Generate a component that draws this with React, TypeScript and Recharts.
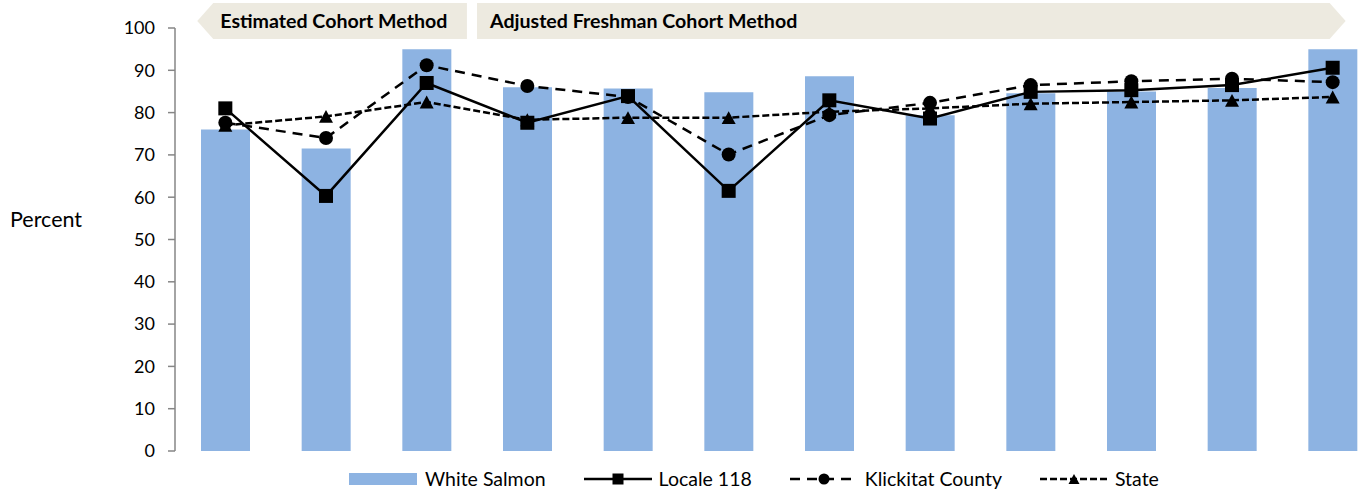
import { Bar, ComposedChart, Legend, Line, XAxis, YAxis } from 'recharts'

// school years, not labelled in the picture
const categories = ['Y1', 'Y2', 'Y3', 'Y4', 'Y5', 'Y6', 'Y7', 'Y8', 'Y9', 'Y10', 'Y11', 'Y12']
const whiteSalmon = [76, 71.5, 95, 86, 85.7, 84.8, 88.6, 79.4, 84.6, 85.0, 85.8, 95]
const locale118 = [81.0, 60.3, 87.0, 77.6, 83.9, 61.5, 82.9, 78.6, 84.9, 85.3, 86.5, 90.6]
const klickitat = [77.6, 74.0, 91.2, 86.3, 83.7, 70.1, 79.4, 82.3, 86.5, 87.4, 88.0, 87.2]
const stateRate = [77.0, 79.1, 82.5, 78.3, 78.8, 78.8, 80.2, 81.0, 82.1, 82.5, 82.9, 83.7]
const yTicks = [0, 10, 20, 30, 40, 50, 60, 70, 80, 90, 100]

const headerLabels = ['Estimated Cohort Method', 'Adjusted Freshman Cohort Method']

const data = categories.map((name, i) => ({
  name,
  whiteSalmon: whiteSalmon[i],
  locale118: locale118[i],
  klickitat: klickitat[i],
  state: stateRate[i],
}))

const FONT = 'Lato, "Open Sans", sans-serif'
const BAR_COLOR = '#8DB3E2'
const HEADER_FILL = '#EDEAE0'

const CHART_W = 1400
const CHART_H = 493
const MARGIN = { top: 28, right: 17, bottom: 0, left: 0 }
const AXIS_W = 175
const PLOT_LEFT = MARGIN.left + AXIS_W
const BAND = (CHART_W - MARGIN.right - PLOT_LEFT) / categories.length

type Shape = 'square' | 'circle' | 'triangle'

function marker(shape: Shape, cx: number, cy: number, s: number, key?: string) {
  if (shape === 'square') {
    return <rect key={key} x={cx - s / 2} y={cy - s / 2} width={s} height={s} fill="#000" />
  }
  if (shape === 'circle') {
    return <circle key={key} cx={cx} cy={cy} r={s / 2} fill="#000" />
  }
  const h = s * 0.92
  return (
    <polygon
      key={key}
      points={`${cx},${cy - h / 2} ${cx + s / 2},${cy + h / 2} ${cx - s / 2},${cy + h / 2}`}
      fill="#000"
    />
  )
}

function dotRenderer(shape: Shape) {
  return (props: any) => {
    const { cx, cy, index } = props
    if (cx == null || cy == null) return <g key={`d-${index}`} />
    return marker(shape, cx, cy, 14, `d-${shape}-${index}`)
  }
}

const lineSeries = [
  { key: 'locale118', name: 'Locale 118', dash: undefined as string | undefined, shape: 'square' as Shape },
  { key: 'klickitat', name: 'Klickitat County', dash: '10 7', shape: 'circle' as Shape },
  { key: 'state', name: 'State', dash: '7 3', shape: 'triangle' as Shape },
]

function ChartLegend() {
  return (
    <div
      style={{
        height: 42,
        paddingTop: 13,
        boxSizing: 'border-box',
        display: 'flex',
        alignItems: 'center',
        paddingLeft: 349,
        gap: 38,
        fontFamily: FONT,
        fontSize: 19.5,
        color: '#000',
        lineHeight: '24px',
      }}
    >
      <div style={{ display: 'flex', alignItems: 'center', gap: 8 }}>
        <div style={{ width: 68, height: 12, background: BAR_COLOR }} />
        <span>White Salmon</span>
      </div>
      {lineSeries.map((s) => (
        <div key={s.key} style={{ display: 'flex', alignItems: 'center', gap: 7 }}>
          <svg width={68} height={20}>
            <line x1={0} y1={10} x2={68} y2={10} stroke="#000" strokeWidth={2.5} strokeDasharray={s.dash} />
            {marker(s.shape, 34, 10, 11)}
          </svg>
          <span>{s.name}</span>
        </div>
      ))}
    </div>
  )
}

function Headers() {
  const x0 = PLOT_LEFT
  const b1Left = x0 + 0.38 * BAND
  const b1Right = x0 + 2.9 * BAND
  const b2Left = x0 + 3 * BAND
  const b2Right = x0 + 11.47 * BAND
  const top = 3
  const bottom = 39
  const mid = (top + bottom) / 2
  return (
    <svg width={1359} height={45} style={{ position: 'absolute', left: 0, top: 0 }}>
      <polygon
        points={`${b1Left - 16},${mid} ${b1Left},${top} ${b1Right},${top} ${b1Right},${bottom} ${b1Left},${bottom}`}
        fill={HEADER_FILL}
      />
      <polygon
        points={`${b2Left},${top} ${b2Right},${top} ${b2Right + 16},${mid} ${b2Right},${bottom} ${b2Left},${bottom}`}
        fill={HEADER_FILL}
      />
      <text x={b1Left + 7} y={mid + 6.5} fontFamily={FONT} fontWeight={700} fontSize={19.6} fill="#000">
        {headerLabels[0]}
      </text>
      <text x={b2Left + 13} y={mid + 6.5} fontFamily={FONT} fontWeight={700} fontSize={19.6} fill="#000">
        {headerLabels[1]}
      </text>
    </svg>
  )
}

export default function App() {
  return (
    <div
      style={{
        position: 'absolute',
        left: 0,
        top: 0,
        width: 1359,
        height: 493,
        overflow: 'hidden',
        background: '#fff',
      }}
    >
      <ComposedChart width={CHART_W} height={CHART_H} data={data} margin={MARGIN}>
        <XAxis dataKey="name" hide />
        <YAxis
          width={AXIS_W}
          domain={[0, 100]}
          ticks={yTicks}
          interval={0}
          tickSize={7}
          tickMargin={13}
          axisLine={{ stroke: '#868686', strokeWidth: 1.5 }}
          tickLine={{ stroke: '#868686', strokeWidth: 1.5 }}
          tick={{ fill: '#000', fontSize: 18, fontFamily: FONT }}
          label={{
            value: 'Percent',
            position: 'insideLeft',
            offset: 10,
            dy: -20,
            fill: '#000',
            fontSize: 21.5,
            fontFamily: FONT,
          }}
        />
        <Legend verticalAlign="bottom" content={() => <ChartLegend />} />
        <Bar dataKey="whiteSalmon" name="White Salmon" fill={BAR_COLOR} barSize={49} isAnimationActive={false} />
        {lineSeries.map((s) => (
          <Line
            key={s.key}
            dataKey={s.key}
            name={s.name}
            type="linear"
            stroke="#000"
            strokeWidth={2.5}
            strokeDasharray={s.dash}
            dot={dotRenderer(s.shape)}
            activeDot={false}
            isAnimationActive={false}
          />
        ))}
      </ComposedChart>
      <Headers />
    </div>
  )
}
